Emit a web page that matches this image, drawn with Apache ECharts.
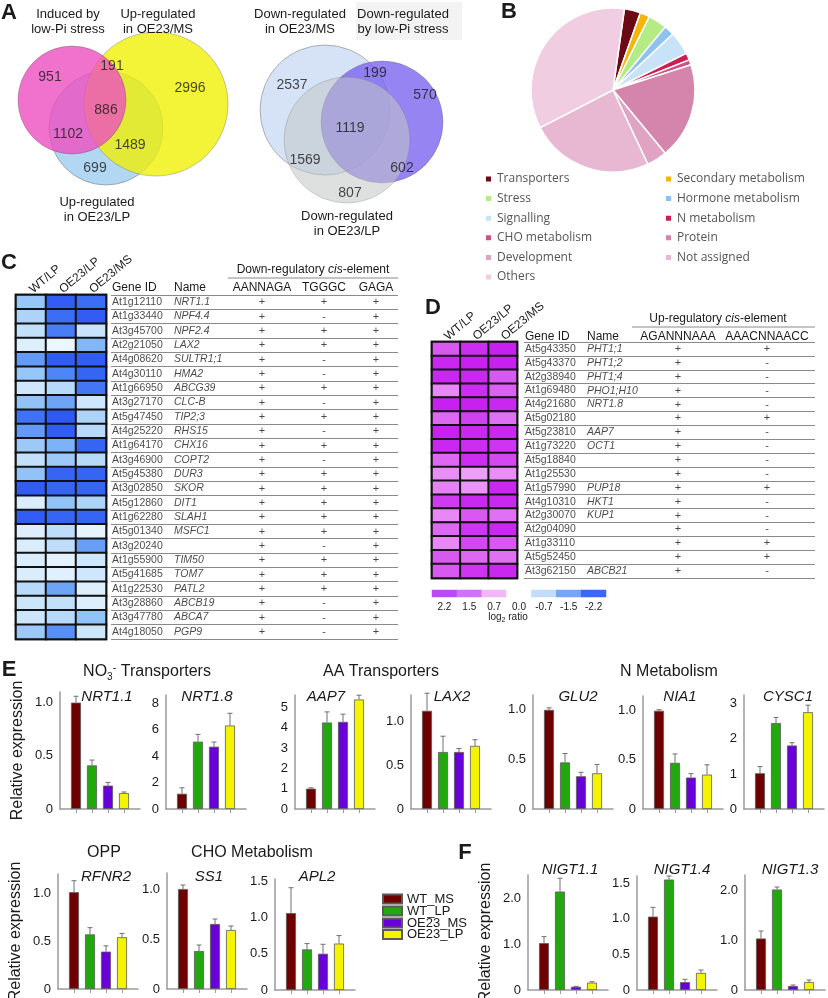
<!DOCTYPE html>
<html>
<head>
<meta charset="utf-8">
<script src="https://cdn.jsdelivr.net/npm/echarts@6/dist/echarts.min.js"></script>
<style>
html,body{margin:0;padding:0;background:#fff;}
#chart{width:828px;height:998px;}
</style>
</head>
<body>
<div id="chart"></div>
<script>
// ===================== DATA =====================
// Panel A – Venn diagrams
const vennLeftSets = ['Induced by\nlow-Pi stress', 'Up-regulated\nin OE23/MS', 'Up-regulated\nin OE23/LP'];
const vennLeftCounts = [951, 191, 2996, 886, 1102, 1489, 699];
const vennRightSets = ['Down-regulated\nin OE23/MS', 'Down-regulated\nby low-Pi stress', 'Down-regulated\nin OE23/LP'];
const vennRightCounts = [2537, 199, 570, 1119, 1569, 602, 807];

// Panel B – pie
const pieCategories = ['Transporters','Secondary metabolism','Stress','Hormone metabolism','Signalling','N metabolism','CHO metabolism','Protein','Development','Not assigned','Others'];
const pieValues = [3.2, 1.9, 3.7, 2.0, 4.6, 1.4, 1.0, 19.0, 4.0, 24.4, 34.8];

// Panels C / D – heatmap columns
const heatCols = ['WT/LP', 'OE23/LP', 'OE23/MS'];

// Panel C
const downGeneIds = ['At1g12110','At1g33440','At3g45700','At2g21050','At4g08620','At4g30110','At1g66950','At3g27170','At5g47450','At4g25220','At1g64170','At3g46900','At5g45380','At3g02850','At5g12860','At1g62280','At5g01340','At3g20240','At1g55900','At5g41685','At1g22530','At3g28860','At3g47780','At4g18050'];
const downGeneNames = ['NRT1.1','NPF4.4','NPF2.4','LAX2','SULTR1;1','HMA2','ABCG39','CLC-B','TIP2;3','RHS15','CHX16','COPT2','DUR3','SKOR','DIT1','SLAH1','MSFC1','','TIM50','TOM7','PATL2','ABCB19','ABCA7','PGP9'];
const downCisHeaders = ['AANNAGA', 'TGGGC', 'GAGA'];
const downAANNAGA = ['+','+','+','+','+','+','+','+','+','+','+','+','+','+','+','+','+','+','+','+','+','+','+','+'];
const downTGGGC   = ['+','-','+','+','-','-','+','-','+','-','+','-','+','+','+','+','+','-','+','+','+','-','-','-'];
const downGAGA    = ['+','+','+','+','+','+','+','+','+','+','+','+','+','+','+','+','+','+','+','+','+','+','+','+'];
const downWTLP   = [-1.0,-0.8,-0.6,-0.25,-1.5,-1.0,-0.45,-1.05,-1.95,-1.5,-0.95,-0.6,-1.05,-2.2,-0.3,-2.2,-0.25,-0.3,-0.3,-0.3,-0.7,-0.5,-0.5,-0.95];
const downOE23LP = [-2.2,-2.0,-1.8,-0.05,-2.2,-1.7,-0.7,-1.4,-2.25,-2.2,-1.25,-0.95,-2.1,-2.1,-1.05,-2.1,-0.65,-0.65,-0.15,-0.2,-1.4,-0.6,-0.7,-1.6];
const downOE23MS = [-2.0,-2.2,-0.55,-1.2,-2.2,-2.1,-1.9,-0.45,-0.8,-0.7,-2.1,-0.7,-2.1,-2.1,-0.8,-2.1,-0.1,-1.45,-0.45,-0.45,-0.25,-0.25,-1.05,-0.5];

// Panel D
const upGeneIds = ['At5g43350','At5g43370','At2g38940','At1g69480','At4g21680','At5g02180','At5g23810','At1g73220','At5g18840','At1g25530','At1g57990','At4g10310','At2g30070','At2g04090','At1g33110','At5g52450','At3g62150'];
const upGeneNames = ['PHT1;1','PHT1;2','PHT1;4','PHO1;H10','NRT1.8','','AAP7','OCT1','','','PUP18','HKT1','KUP1','','','','ABCB21'];
const upCisHeaders = ['AGANNNAAA', 'AAACNNAACC'];
const upAGANNNAAA  = ['+','+','+','+','+','+','+','+','+','+','+','+','+','+','+','+','+'];
const upAAACNNAACC = ['+','-','-','-','-','+','-','-','-','-','+','-','-','-','+','+','-'];
const upWTLP   = [1.4,2.1,2.1,0.9,2.2,1.2,2.2,2.1,1.2,0.85,0.95,1.8,0.9,1.2,0.9,1.4,1.4];
const upOE23LP = [2.0,2.2,2.1,2.0,2.2,1.7,2.1,2.0,2.0,0.7,0.8,2.1,1.4,1.9,1.6,1.2,1.9];
const upOE23MS = [2.2,2.2,1.4,1.3,2.1,1.1,2.1,1.9,1.6,0.85,2.1,2.1,1.1,2.1,1.4,1.1,2.1];
const ratioTicks = ['2.2','1.5','0.7','0.0','-0.7','-1.5','-2.2'];
const ratioValues = [2.2, 1.5, 0.7, 0.0, -0.7, -1.5, -2.2];

// Panels E / F – qRT-PCR
const groups = ['WT_MS','WT_LP','OE23_MS','OE23_LP'];
const NRT1_1 = [1.00, 0.41, 0.22, 0.15];   const NRT1_1_err = [0.06, 0.05, 0.03, 0.01];
const NRT1_8 = [1.15, 5.08, 4.70, 6.30];   const NRT1_8_err = [0.45, 0.55, 0.35, 0.92];
const AAP7   = [1.00, 4.25, 4.28, 5.38];   const AAP7_err   = [0.04, 0.52, 0.38, 0.21];
const LAX2   = [1.12, 0.65, 0.65, 0.72];   const LAX2_err   = [0.20, 0.18, 0.04, 0.07];
const GLU2   = [1.00, 0.47, 0.33, 0.36];   const GLU2_err   = [0.02, 0.09, 0.04, 0.09];
const NIA1   = [1.00, 0.47, 0.32, 0.35];   const NIA1_err   = [0.01, 0.09, 0.04, 0.10];
const CYSC1  = [1.02, 2.45, 1.81, 2.76];   const CYSC1_err  = [0.19, 0.16, 0.08, 0.20];
const RFNR2  = [1.01, 0.57, 0.39, 0.54];   const RFNR2_err  = [0.12, 0.07, 0.06, 0.04];
const SS1    = [1.00, 0.38, 0.65, 0.59];   const SS1_err    = [0.04, 0.06, 0.05, 0.04];
const APL2   = [1.06, 0.56, 0.50, 0.64];   const APL2_err   = [0.35, 0.08, 0.13, 0.11];
const NIGT1_1 = [1.02, 2.14, 0.07, 0.16];  const NIGT1_1_err = [0.14, 0.29, 0.01, 0.02];
const NIGT1_4 = [1.03, 1.55, 0.11, 0.24];  const NIGT1_4_err = [0.13, 0.05, 0.04, 0.04];
const NIGT1_3 = [1.03, 2.01, 0.08, 0.16];  const NIGT1_3_err = [0.15, 0.05, 0.02, 0.04];

// ===================== STYLE / LAYOUT =====================
const FF = '"Liberation Sans", Arial, Helvetica, sans-serif';
const INK = '#1a1a1a';
const PIE_COLORS = ['#6b0a14','#f5b50a','#b5eb84','#8cc2f0','#c8e3f7','#cc1f4f','#d24f86','#d585ab','#e0a3c4','#e8b8d3','#f0cde1'];
const BAR_COLORS = ['#6e0000','#22a80e','#6a00d8','#f4f400'];
const RATIO_COLORS = ['#b84cf2','#cf72f3','#f2b6f9','#ffffff','#c2ddfa','#74a6f5','#3a68f4'];

const grid=[], xAxis=[], yAxis=[], series=[], legend=[], graphic=[], visualMap=[];
function G(o){ grid.push(Object.assign({outerBoundsMode:'none', containLabel:false}, o)); return grid.length-1; }
function X(o){ xAxis.push(o); return xAxis.length-1; }
function Y(o){ yAxis.push(o); return yAxis.length-1; }
function S(o){ series.push(o); return series.length-1; }
function txt(x, y, text, o) {
  o = o || {};
  const st = {
    text: text, fill: o.fill || INK,
    fontSize: o.size || 13, fontFamily: o.family || FF,
    fontWeight: o.weight || 'normal', fontStyle: o.style || 'normal',
    align: o.align || 'center', verticalAlign: o.va || 'middle',
    textAlign: o.align || 'center', textVerticalAlign: o.va || 'middle'
  };
  if (o.lh) st.lineHeight = o.lh;
  if (o.rich) st.rich = o.rich;
  graphic.push({type:'text', x:x, y:y, z:100, rotation:o.rot || 0, silent:true, style:st});
}
function hline(x1, x2, y, color, w) {
  graphic.push({type:'line', z:50, silent:true, shape:{x1:x1, y1:y, x2:x2, y2:y}, style:{stroke:color, lineWidth:w}});
}

// ---------- Panel A: Venn (pixel-mapped hidden axes) ----------
const gV = G({left:0, top:0, width:470, height:250});
const xV = X({gridIndex:gV, type:'value', min:0, max:470, show:false});
const yV = Y({gridIndex:gV, type:'value', min:0, max:250, inverse:true, show:false});
const VENN_L_GEOM = [
  {set:2, cx:106, cy:128, r:57, color:'#b2d7f3', op:1},
  {set:1, cx:156, cy:104, r:72, color:'#f0f000', op:0.78},
  {set:0, cx:72,  cy:100, r:54, color:'#ee4fc0', op:0.8}
];
const VENN_R_GEOM = [
  {set:0, cx:325, cy:110, r:65, color:'#d6e3f7', op:1},
  {set:1, cx:382, cy:122, r:61, color:'#7a62ef', op:0.78},
  {set:2, cx:347, cy:140, r:63, color:'#c2c6c6', op:0.55}
];
const VENN_L_NUMPOS = [[50,77],[112,66],[190,88],[106,110],[68,134],[130,145],[95,168]];
const VENN_R_NUMPOS = [[292,85],[375,73],[425,95],[350,128],[305,160],[402,168],[350,193]];
const VENN_L_SETPOS = [[68,22],[158,22],[97,210]];
const VENN_R_SETPOS = [[300,22],[403,22],[347,224]];
graphic.push({type:'rect', z:0, silent:true, shape:{x:356, y:2, width:106, height:38}, style:{fill:'#f3f3f3'}});
[VENN_L_GEOM, VENN_R_GEOM].forEach(geom => {
  geom.forEach(c => {
    S({type:'scatter', xAxisIndex:xV, yAxisIndex:yV, silent:true, symbol:'circle', symbolSize:2*c.r,
       data:[[c.cx, c.cy]], itemStyle:{color:c.color, opacity:c.op, borderColor:'rgba(90,90,90,0.55)', borderWidth:0.8},
       emphasis:{disabled:true}});
  });
});
function numSeries(counts, pos) {
  S({type:'scatter', xAxisIndex:xV, yAxisIndex:yV, silent:true, symbolSize:1, itemStyle:{color:'rgba(0,0,0,0)'},
     data: counts.map((c,i)=>[pos[i][0], pos[i][1], c]), emphasis:{disabled:true},
     label:{show:true, position:'inside', formatter:p=>String(p.value[2]), fontSize:14, color:INK, fontFamily:FF}});
}
numSeries(vennLeftCounts, VENN_L_NUMPOS);
numSeries(vennRightCounts, VENN_R_NUMPOS);
vennLeftSets.forEach((s,i)=>txt(VENN_L_SETPOS[i][0], VENN_L_SETPOS[i][1], s, {size:13, lh:15}));
vennRightSets.forEach((s,i)=>txt(VENN_R_SETPOS[i][0], VENN_R_SETPOS[i][1], s, {size:13, lh:15}));

// ---------- Panel B: pie ----------
S({type:'pie', center:[613,90], radius:82, startAngle:82, clockwise:true, silent:true,
   label:{show:false}, labelLine:{show:false}, itemStyle:{borderColor:'#fff', borderWidth:1.5},
   emphasis:{disabled:true},
   data: pieCategories.map((n,i)=>({name:n, value:pieValues[i], itemStyle:{color:PIE_COLORS[i]}}))});
const PIE_LEG_COLS = [
  {left:484, names:['Transporters','Stress','Signalling','CHO metabolism','Development','Others']},
  {left:664, names:['Secondary metabolism','Hormone metabolism','N metabolism','Protein','Not assigned']}
];
const PIE_LEG_ROWS = [180, 199.6, 219.2, 238.8, 258.4, 278];
PIE_LEG_COLS.forEach(col => col.names.forEach((n,i) => {
  legend.push({data:[n], left:col.left, top:PIE_LEG_ROWS[i]-7, padding:0, itemWidth:7, itemHeight:7, icon:'rect',
    selectedMode:false, textStyle:{fontFamily:'"Open Sans", sans-serif', fontSize:12, color:'#555'}});
}));

// ---------- Panel C ----------
const C_TOP = 295, C_H = 344;
const heatColLabel = {rotate:-40, align:'left', verticalAlign:'middle', fontSize:12, color:INK, margin:4, fontFamily:FF, interval:0};
const gHC = G({left:16, top:C_TOP, width:90, height:C_H, show:true, borderColor:'#111', borderWidth:2.5, backgroundColor:'transparent'});
const xHC = X({gridIndex:gHC, type:'category', position:'top', data:heatCols, axisLine:{show:false}, axisTick:{show:false}, splitLine:{show:false},
  axisLabel:heatColLabel});
const yHC = Y({gridIndex:gHC, type:'category', inverse:true, data:downGeneIds, show:false});
const heatC = [];
downGeneIds.forEach((id,i)=>{ heatC.push([0,i,downWTLP[i]], [1,i,downOE23LP[i]], [2,i,downOE23MS[i]]); });
const sHC = S({type:'heatmap', xAxisIndex:xHC, yAxisIndex:yHC, data:heatC, silent:true,
  itemStyle:{borderColor:'#111', borderWidth:2}, emphasis:{disabled:true}});
visualMap.push({type:'continuous', show:false, seriesIndex:sHC, dimension:2, min:-2.3, max:0,
  inRange:{color:['#2b55f4','#4c84f5','#86bcf7','#c6e2fb','#eff8fe']}});

function textCol(xi, yi, xpos, texts, o) {
  const data = [];
  texts.forEach((t,i)=>{ if (t) data.push([xpos, i, t]); });
  S({type:'scatter', xAxisIndex:xi, yAxisIndex:yi, data:data, symbolSize:1, silent:true, z:5,
     itemStyle:{color:'rgba(0,0,0,0)'}, emphasis:{disabled:true},
     label:{show:true, position:'inside', align:o.align, verticalAlign:'middle', formatter:p=>p.value[2],
            fontSize:o.size, fontStyle:o.italic ? 'italic' : 'normal', color:INK, fontFamily:FF}});
}
const rowAxis = {axisLine:{show:false}, axisTick:{show:false, interval:0}, axisLabel:{show:false, interval:0},
  splitLine:{show:true, interval:0, lineStyle:{color:'#8a8a8a', width:1}}};
const gTC = G({left:111, top:C_TOP, width:287, height:C_H});
const xTC = X({gridIndex:gTC, type:'value', min:0, max:287, show:false});
const yTC = Y(Object.assign({gridIndex:gTC, type:'category', inverse:true, data:downGeneIds}, rowAxis));
textCol(xTC, yTC, 1, downGeneIds, {align:'left', size:10.5});
textCol(xTC, yTC, 63, downGeneNames, {align:'left', size:10.5, italic:true});
const C_CIS_X = [151, 213, 265];
[downAANNAGA, downTGGGC, downGAGA].forEach((col,k)=>textCol(xTC, yTC, C_CIS_X[k], col, {align:'center', size:11}));
txt(313, 270, '{n|Down-regulatory }{i|cis}{n|-element}', {rich:{n:{fontSize:12, fontFamily:FF, fill:INK}, i:{fontSize:12, fontFamily:FF, fontStyle:'italic', fill:INK}}});
hline(228, 398, 278, '#8a8a8a', 1);
txt(112, 288, 'Gene ID', {align:'left', size:12});
txt(174, 288, 'Name', {align:'left', size:12});
downCisHeaders.forEach((h,k)=>txt(111 + C_CIS_X[k], 288, h, {size:12}));

// ---------- Panel D ----------
const D_TOP = 342, D_H = 236;
const gHD = G({left:432, top:D_TOP, width:85, height:D_H, show:true, borderColor:'#111', borderWidth:2.5, backgroundColor:'transparent'});
const xHD = X({gridIndex:gHD, type:'category', position:'top', data:heatCols, axisLine:{show:false}, axisTick:{show:false}, splitLine:{show:false},
  axisLabel:heatColLabel});
const yHD = Y({gridIndex:gHD, type:'category', inverse:true, data:upGeneIds, show:false});
const heatD = [];
upGeneIds.forEach((id,i)=>{ heatD.push([0,i,upWTLP[i]], [1,i,upOE23LP[i]], [2,i,upOE23MS[i]]); });
const sHD = S({type:'heatmap', xAxisIndex:xHD, yAxisIndex:yHD, data:heatD, silent:true,
  itemStyle:{borderColor:'#111', borderWidth:2}, emphasis:{disabled:true}});
visualMap.push({type:'continuous', show:false, seriesIndex:sHD, dimension:2, min:0, max:2.2,
  inRange:{color:['#fbe8fe','#f2b2f9','#e070f4','#d344f1','#c820f0']}});

const gTD = G({left:524, top:D_TOP, width:291, height:D_H});
const xTD = X({gridIndex:gTD, type:'value', min:0, max:291, show:false});
const yTD = Y(Object.assign({gridIndex:gTD, type:'category', inverse:true, data:upGeneIds}, rowAxis));
textCol(xTD, yTD, 1, upGeneIds, {align:'left', size:10.5});
textCol(xTD, yTD, 63, upGeneNames, {align:'left', size:10.5, italic:true});
const D_CIS_X = [154, 243];
[upAGANNNAAA, upAAACNNAACC].forEach((col,k)=>textCol(xTD, yTD, D_CIS_X[k], col, {align:'center', size:11}));
txt(718, 319, '{n|Up-regulatory }{i|cis}{n|-element}', {rich:{n:{fontSize:12, fontFamily:FF, fill:INK}, i:{fontSize:12, fontFamily:FF, fontStyle:'italic', fill:INK}}});
hline(632, 815, 327, '#8a8a8a', 1);
txt(525, 337, 'Gene ID', {align:'left', size:12});
txt(587, 337, 'Name', {align:'left', size:12});
upCisHeaders.forEach((h,k)=>txt(524 + D_CIS_X[k], 337, h, {size:12}));

// log2 ratio colour key
const gL = G({left:432, top:590, width:174, height:7});
const xL = X({gridIndex:gL, type:'category', data:ratioTicks, axisLine:{show:false}, axisTick:{show:false}, splitLine:{show:false},
  axisLabel:{fontSize:10, color:INK, margin:5, interval:0, fontFamily:FF}});
const yL = Y({gridIndex:gL, type:'category', data:['k'], show:false});
const sL = S({type:'heatmap', xAxisIndex:xL, yAxisIndex:yL, silent:true, emphasis:{disabled:true},
  data: ratioValues.map((v,i)=>[i, 0, v])});
visualMap.push({type:'piecewise', show:false, seriesIndex:sL, dimension:2,
  pieces: ratioValues.map((v,i)=>({value:v, color:RATIO_COLORS[i]}))});
txt(508, 617, '{a|log}{b|2}{a| ratio}', {rich:{a:{fontSize:10, fontFamily:FF, fill:INK}, b:{fontSize:7, fontFamily:FF, fill:INK, verticalAlign:'bottom', lineHeight:14}}});

// ---------- Panels E / F: bar charts ----------
function errRender(params, api) {
  const x = api.value(0), v = api.value(1), e = api.value(2);
  const a = api.coord([x, v]), b = api.coord([x, v + e]);
  const st = {stroke:'#707070', lineWidth:1};
  return {type:'group', children:[
    {type:'line', shape:{x1:a[0], y1:a[1], x2:b[0], y2:b[1]}, style:st},
    {type:'line', shape:{x1:b[0]-2.5, y1:b[1], x2:b[0]+2.5, y2:b[1]}, style:st}
  ]};
}
const barCharts = [
  {name:'NRT1.1', v:NRT1_1, e:NRT1_1_err, ax:60,  top:692, zero:809, max:1.1,  step:0.5, dec:true,  tx:107, ty:697, ylab:true},
  {name:'NRT1.8', v:NRT1_8, e:NRT1_8_err, ax:166, top:695, zero:809, max:8.6,  step:2,   dec:false, tx:207, ty:697},
  {name:'AAP7',   v:AAP7,   e:AAP7_err,   ax:295, top:695, zero:809, max:5.6,  step:1,   dec:false, tx:326, ty:697},
  {name:'LAX2',   v:LAX2,   e:LAX2_err,   ax:411, top:695, zero:809, max:1.3,  step:0.5, dec:true,  tx:452, ty:697},
  {name:'GLU2',   v:GLU2,   e:GLU2_err,   ax:533, top:695, zero:809, max:1.15, step:0.5, dec:true,  tx:578, ty:697},
  {name:'NIA1',   v:NIA1,   e:NIA1_err,   ax:643, top:696, zero:809, max:1.15, step:0.5, dec:true,  tx:680, ty:697},
  {name:'CYSC1',  v:CYSC1,  e:CYSC1_err,  ax:744, top:695, zero:809, max:3.25, step:1,   dec:false, tx:788, ty:697},
  {name:'RFNR2',  v:RFNR2,  e:RFNR2_err,  ax:58,  top:874, zero:989, max:1.2,  step:0.5, dec:true,  tx:106, ty:877, ylab:true},
  {name:'SS1',    v:SS1,    e:SS1_err,    ax:167, top:873, zero:989, max:1.16, step:0.5, dec:true,  tx:209, ty:877},
  {name:'APL2',   v:APL2,   e:APL2_err,   ax:275, top:879, zero:990, max:1.53, step:0.5, dec:true,  tx:317, ty:877},
  {name:'NIGT1.1', v:NIGT1_1, e:NIGT1_1_err, ax:528, top:875, zero:990, max:2.5, step:1,   dec:true, tx:570, ty:870, ylab:true},
  {name:'NIGT1.4', v:NIGT1_4, e:NIGT1_4_err, ax:637, top:876, zero:990, max:1.6, step:0.5, dec:true, tx:682, ty:870},
  {name:'NIGT1.3', v:NIGT1_3, e:NIGT1_3_err, ax:745, top:875, zero:990, max:2.3, step:1,   dec:true, tx:790, ty:870}
];
barCharts.forEach((c, k) => {
  const gi = G({left:c.ax, top:c.top, width:80, height:c.zero - c.top});
  const xi = X({gridIndex:gi, type:'category', boundaryGap:false, data:[''].concat(groups, [' ']),
    axisLine:{show:true, lineStyle:{color:'#9a9a9a', width:1.5}},
    axisTick:{show:true, length:4, inside:false, interval:(i)=> i > 0 && i < 5, lineStyle:{color:'#9a9a9a'}},
    axisLabel:{show:false}, splitLine:{show:false}});
  const yi = Y({gridIndex:gi, type:'value', min:0, max:c.max, interval:c.step,
    axisLine:{show:true, lineStyle:{color:'#9a9a9a', width:1.5}}, axisTick:{show:false}, splitLine:{show:false},
    axisLabel:{fontSize:13, color:INK, margin:7, fontFamily:FF, showMaxLabel:true,
      formatter: v => { const r = v / c.step; if (Math.abs(r - Math.round(r)) > 1e-6) return ''; return v === 0 ? '0' : (c.dec ? v.toFixed(1) : String(Math.round(v))); }},
    name: c.ylab ? 'Relative expression' : '', nameLocation:'middle', nameGap:34, nameRotate:90,
    nameTextStyle:{fontSize:16, color:INK, fontFamily:FF}});
  groups.forEach((g, j) => {
    const d = ['-','-','-','-','-','-']; d[j+1] = c.v[j];
    S({type:'bar', name:g, xAxisIndex:xi, yAxisIndex:yi, stack:'st'+k, barWidth:10, data:d, silent:true,
       itemStyle:{color:BAR_COLORS[j], borderColor:'#5a5a5a', borderWidth:0.8}, emphasis:{disabled:true}});
  });
  S({type:'custom', xAxisIndex:xi, yAxisIndex:yi, silent:true, clip:false, z:3, encode:{x:0, y:1},
     data:c.v.map((v,j)=>[j+1, v, c.e[j]]), renderItem:errRender});
  txt(c.tx, c.ty, c.name, {size:15, style:'italic'});
});
const BAR_LEG_ROWS = [899, 911, 923, 934.5];
groups.forEach((g,j)=>{
  legend.push({data:[g], left:382, top:BAR_LEG_ROWS[j]-6.5, padding:0, itemWidth:19, itemHeight:9, icon:'rect',
    selectedMode:false, textStyle:{fontSize:13, color:INK, fontFamily:FF}});
});
txt(147, 672, '{n|NO}{s|3}{p|-}{n| Transporters}', {rich:{
  n:{fontSize:16, fontFamily:FF, fill:INK, lineHeight:20},
  s:{fontSize:10, fontFamily:FF, fill:INK, verticalAlign:'bottom', lineHeight:12},
  p:{fontSize:11, fontFamily:FF, fill:INK, verticalAlign:'top', lineHeight:12}}});
txt(381, 672, 'AA Transporters', {size:16});
txt(669, 672, 'N Metabolism', {size:16});
txt(104, 853, 'OPP', {size:16});
txt(252, 853, 'CHO Metabolism', {size:16});

[['A',9,13],['B',509,12],['C',9,263],['D',433,308],['E',9,670],['F',465,853]].forEach(p=>
  txt(p[1], p[2], p[0], {size:22, weight:'bold', family:'Arial, "Liberation Sans", sans-serif'}));

const chart = echarts.init(document.getElementById('chart'), null, {renderer:'canvas', width:828, height:998});
chart.setOption({
  animation:false, backgroundColor:'#ffffff', textStyle:{fontFamily:FF},
  grid:grid, xAxis:xAxis, yAxis:yAxis, series:series, legend:legend, visualMap:visualMap,
  graphic:{elements:graphic}
});
</script>
</body>
</html>
